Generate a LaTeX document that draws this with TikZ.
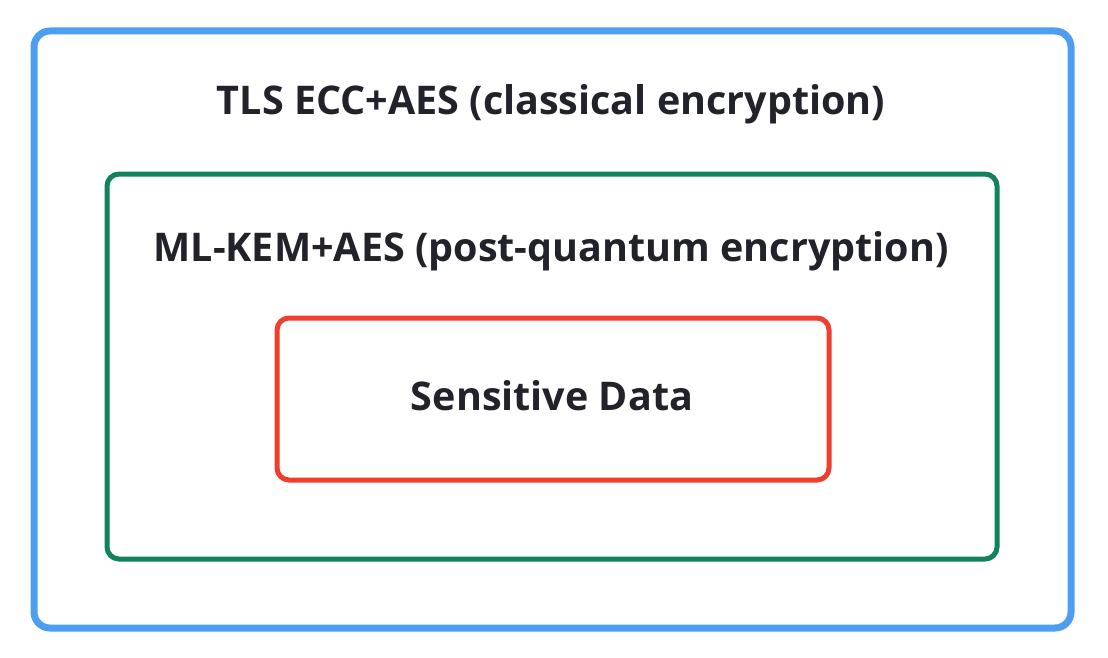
\documentclass[tikz,border=0pt]{standalone}
\usepackage{fontspec}
\setmainfont{Open Sans}
\definecolor{bblue}{HTML}{4D9DF0}
\definecolor{bgreen}{HTML}{13805E}
\definecolor{bred}{HTML}{F03E2E}
\definecolor{tdark}{HTML}{22232A}
\begin{document}
\begin{tikzpicture}[x=1pt,y=-1pt,
  lbl/.style={text=tdark,font=\bfseries\fontsize{39.5}{46}\selectfont,anchor=base,inner sep=0pt}]
\useasboundingbox[fill=white] (0,0) rectangle (1108,658);
\draw[bblue,line width=7pt,rounded corners=16pt] (34,31) rectangle (1071,628);
\draw[bgreen,line width=5pt,rounded corners=12pt] (107,174) rectangle (997,559);
\draw[bred,line width=5pt,rounded corners=12pt] (277,318) rectangle (829,480);
\node[lbl] (t1) at (551,115) {TLS ECC+AES (classical encryption)};
\node[lbl] (t2) at (551,261) {ML-KEM+AES (post-quantum encryption)};
\node[lbl] (t3) at (552,410) {Sensitive Data};
\end{tikzpicture}
\end{document}
